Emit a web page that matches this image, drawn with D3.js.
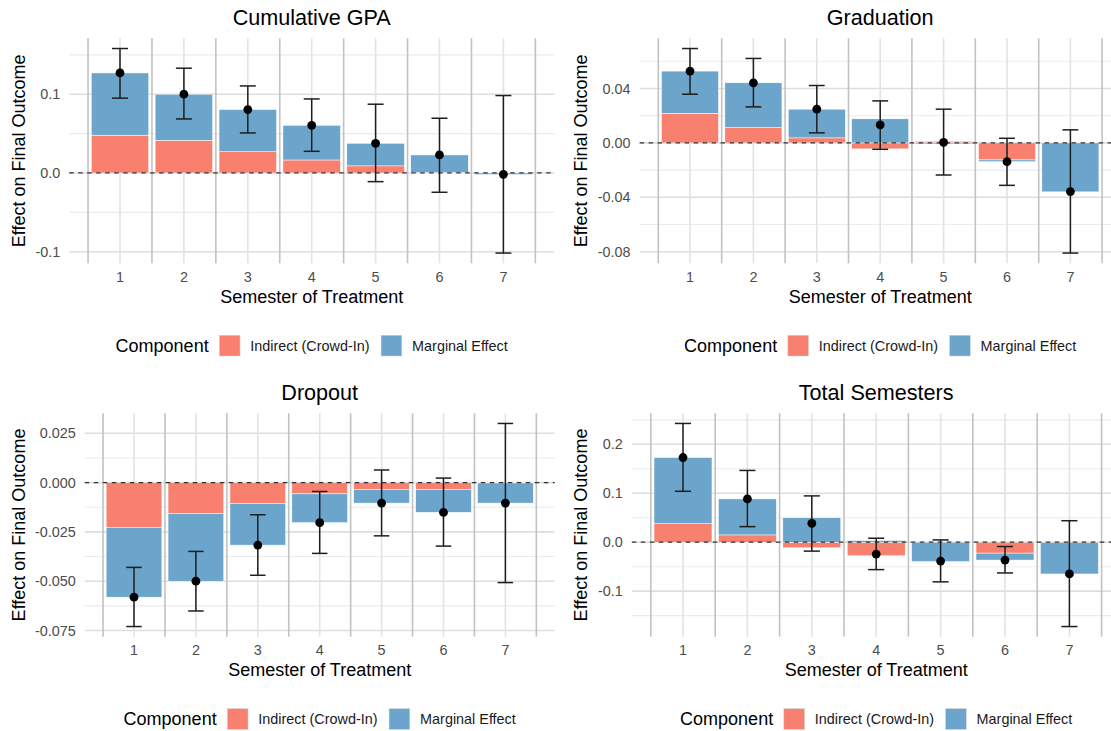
<!DOCTYPE html>
<html>
<head>
<meta charset="utf-8">
<script src="https://cdn.jsdelivr.net/npm/d3@7"></script>
<style>
  body { margin: 0; background: #fff; }
  svg { display: block; font-family: "Liberation Sans", Arial, sans-serif; }
</style>
</head>
<body>
<svg id="chart" width="1111" height="731"></svg>
<script>
// Semesters in which treatment starts
const semesters = [1, 2, 3, 4, 5, 6, 7];
const componentNames = ["Indirect (Crowd-In)", "Marginal Effect"];
const componentColors = ["#F8806F", "#6BA5CC"];

// Cumulative GPA
const gpaIndirect = [0.048, 0.0415, 0.027, 0.0165, 0.009, 0.0005, 0.0003];
const gpaMarginal = [0.079, 0.0585, 0.0535, 0.044, 0.0287, 0.0224, -0.002];
const gpaLow = [0.095, 0.0686, 0.0508, 0.0275, -0.011, -0.0245, -0.1017];
const gpaHigh = [0.158, 0.133, 0.1105, 0.094, 0.0873, 0.0695, 0.0983];
const gpaTicks = [-0.1, 0, 0.1];

// Graduation
const gradIndirect = [0.0218, 0.0113, 0.0037, -0.0044, 0.0012, -0.0125, 0.0002];
const gradMarginal = [0.031, 0.0329, 0.0211, 0.0177, -0.0008, -0.0013, -0.036];
const gradLow = [0.0358, 0.0265, 0.0074, -0.0047, -0.0236, -0.0312, -0.081];
const gradHigh = [0.0694, 0.0621, 0.0422, 0.0309, 0.0248, 0.0034, 0.0096];
const gradTicks = [-0.08, -0.04, 0, 0.04];

// Dropout
const dropIndirect = [-0.0227, -0.0158, -0.0106, -0.0057, -0.0035, -0.0035, -0.0002];
const dropMarginal = [-0.0354, -0.0342, -0.0211, -0.0146, -0.0069, -0.0116, -0.0102];
const dropLow = [-0.073, -0.0651, -0.047, -0.0359, -0.027, -0.0322, -0.0507];
const dropHigh = [-0.043, -0.0349, -0.0163, -0.0045, 0.0064, 0.0023, 0.030];
const dropTicks = [-0.075, -0.05, -0.025, 0, 0.025];

// Total semesters
const semIndirect = [0.0378, 0.0149, -0.0115, -0.0277, 0.001, -0.0223, -0.0005];
const semMarginal = [0.1352, 0.0736, 0.05, 0.0034, -0.0395, -0.0142, -0.0644];
const semLow = [0.104, 0.0318, -0.0182, -0.056, -0.081, -0.0628, -0.1723];
const semHigh = [0.2426, 0.1466, 0.0946, 0.0081, 0.0047, -0.0088, 0.0439];
const semTicks = [-0.1, 0, 0.1, 0.2];

const panels = [
  { title: "Cumulative GPA", indirect: gpaIndirect, marginal: gpaMarginal, low: gpaLow, high: gpaHigh,
    ticks: gpaTicks, fmt: ".1f", box: { left: 69.2, right: 554.2, top: 38.3, bottom: 263.3, ytitle: 18.2 } },
  { title: "Graduation", indirect: gradIndirect, marginal: gradMarginal, low: gradLow, high: gradHigh,
    ticks: gradTicks, fmt: ".2f", box: { left: 639.6, right: 1120.8, top: 38.3, bottom: 263.3, ytitle: 580.4 } },
  { title: "Dropout", indirect: dropIndirect, marginal: dropMarginal, low: dropLow, high: dropHigh,
    ticks: dropTicks, fmt: ".3f", box: { left: 84.8, right: 554.6, top: 413.3, bottom: 636.7, ytitle: 18.2 } },
  { title: "Total Semesters", indirect: semIndirect, marginal: semMarginal, low: semLow, high: semHigh,
    ticks: semTicks, fmt: ".1f", box: { left: 631.8, right: 1120.6, top: 413.3, bottom: 636.7, ytitle: 580.4 } }
];

const locale = d3.formatLocale({ decimal: ".", thousands: ",", grouping: [3], currency: ["", ""], minus: "-" });
const svg = d3.select("#chart");

panels.forEach(p => {
  const { left, right, top, bottom, ytitle } = p.box;
  const g = svg.append("g");

  const rows = semesters.map((s, i) => ({ sem: s, ind: p.indirect[i], marg: p.marginal[i] }));
  const series = d3.stack().keys(["ind", "marg"]).offset(d3.stackOffsetDiverging)(rows);

  // y domain: data extent plus 5% on each side
  const vals = [...p.low, ...p.high, 0];
  series.forEach(s => s.forEach(d => vals.push(d[0], d[1])));
  const [lo, hi] = d3.extent(vals);
  const pad = (hi - lo) * 0.05;
  const y = d3.scaleLinear().domain([lo - pad, hi + pad]).range([bottom, top]);
  const xPad = (7.45 - 0.55) * 0.05;
  const x = d3.scaleLinear().domain([0.55 - xPad, 7.45 + xPad]).range([left, right]);

  // horizontal grid: minor between majors, then majors
  const step = p.ticks[1] - p.ticks[0];
  const minor = [];
  for (let v = p.ticks[0] - step / 2; v <= y.domain()[1]; v += step) {
    if (v >= y.domain()[0]) minor.push(v);
  }
  g.selectAll(".hminor").data(minor).join("line")
    .attr("x1", left).attr("x2", right)
    .attr("y1", d => y(d)).attr("y2", d => y(d))
    .attr("stroke", "#ebebeb").attr("stroke-width", 1.1);
  g.selectAll(".hmajor").data(p.ticks).join("line")
    .attr("x1", left).attr("x2", right)
    .attr("y1", d => y(d)).attr("y2", d => y(d))
    .attr("stroke", "#dedede").attr("stroke-width", 1.6);

  // vertical grid: separators between semesters and lines at each semester
  const seps = d3.range(0.5, 8, 1);
  g.selectAll(".vsep").data(seps).join("line")
    .attr("x1", d => x(d)).attr("x2", d => x(d))
    .attr("y1", top).attr("y2", bottom)
    .attr("stroke", "#c2c2c2").attr("stroke-width", 1.6);
  g.selectAll(".vmaj").data(semesters).join("line")
    .attr("x1", d => x(d)).attr("x2", d => x(d))
    .attr("y1", top).attr("y2", bottom)
    .attr("stroke", "#e3e3e3").attr("stroke-width", 1.6);

  // stacked bars
  series.forEach((s, k) => {
    g.selectAll(null).data(s).join("rect")
      .attr("x", d => x(d.data.sem - 0.45))
      .attr("width", d => x(d.data.sem + 0.45) - x(d.data.sem - 0.45))
      .attr("y", d => y(Math.max(d[0], d[1])))
      .attr("height", d => Math.abs(y(d[0]) - y(d[1])))
      .attr("fill", componentColors[k])
      .attr("stroke", "#ffffff").attr("stroke-width", 0.5);
  });

  // zero reference
  g.append("line")
    .attr("x1", left).attr("x2", right)
    .attr("y1", y(0)).attr("y2", y(0))
    .attr("stroke", "#333").attr("stroke-width", 1.2)
    .attr("stroke-dasharray", "4.5,4.5");

  // confidence intervals
  const cap = 0.125;
  semesters.forEach((s, i) => {
    const eb = g.append("g").attr("stroke", "#1e1e1e").attr("stroke-width", 1.5);
    eb.append("line").attr("x1", x(s)).attr("x2", x(s)).attr("y1", y(p.low[i])).attr("y2", y(p.high[i]));
    eb.append("line").attr("x1", x(s - cap)).attr("x2", x(s + cap)).attr("y1", y(p.low[i])).attr("y2", y(p.low[i]));
    eb.append("line").attr("x1", x(s - cap)).attr("x2", x(s + cap)).attr("y1", y(p.high[i])).attr("y2", y(p.high[i]));
  });

  // total effect points
  g.selectAll(".pt").data(rows).join("circle")
    .attr("cx", d => x(d.sem)).attr("cy", d => y(d.ind + d.marg))
    .attr("r", 4.4).attr("fill", "#000");

  // tick labels
  const f = locale.format(p.fmt);
  g.selectAll(".ytl").data(p.ticks).join("text")
    .attr("x", left - 9).attr("y", d => y(d)).attr("dy", "0.35em")
    .attr("text-anchor", "end").attr("font-size", 14.4).attr("fill", "#4d4d4d")
    .text(d => f(d));
  g.selectAll(".xtl").data(semesters).join("text")
    .attr("x", d => x(d)).attr("y", bottom + 18.4)
    .attr("text-anchor", "middle").attr("font-size", 14.4).attr("fill", "#4d4d4d")
    .text(d => d);

  const cx = x(4);
  // titles
  g.append("text").attr("x", cx).attr("y", top - 13.5)
    .attr("text-anchor", "middle").attr("font-size", 21.6).attr("fill", "#000").text(p.title);
  g.append("text").attr("x", cx).attr("y", bottom + 39.5)
    .attr("text-anchor", "middle").attr("font-size", 18).attr("fill", "#000").text("Semester of Treatment");
  const ycy = (top + bottom) / 2;
  g.append("text").attr("transform", `translate(${ytitle},${ycy}) rotate(-90)`).attr("dy", "0.35em")
    .attr("text-anchor", "middle").attr("font-size", 18).attr("fill", "#000").text("Effect on Final Outcome");

  // legend
  const lg = g.append("g");
  const ly = bottom + 82.3;
  const lt = lg.append("text").attr("y", ly).attr("dy", "0.35em").attr("font-size", 18).attr("fill", "#000").text("Component");
  let cursor = lt.node().getComputedTextLength() + 10.7;
  componentNames.forEach((name, k) => {
    lg.append("rect").attr("x", cursor).attr("y", ly - 10.3).attr("width", 20.7).attr("height", 20.7)
      .attr("fill", componentColors[k]).attr("stroke", "#d0d0d0").attr("stroke-width", 0.5);
    cursor += 20.7 + 10.3;
    const t = lg.append("text").attr("x", cursor).attr("y", ly).attr("dy", "0.35em")
      .attr("font-size", 14.4).attr("fill", "#1a1a1a").text(name);
    cursor += t.node().getComputedTextLength() + (k === 0 ? 11.6 : 0);
  });
  lg.attr("transform", `translate(${cx - cursor / 2},0)`);
});
</script>
</body>
</html>
